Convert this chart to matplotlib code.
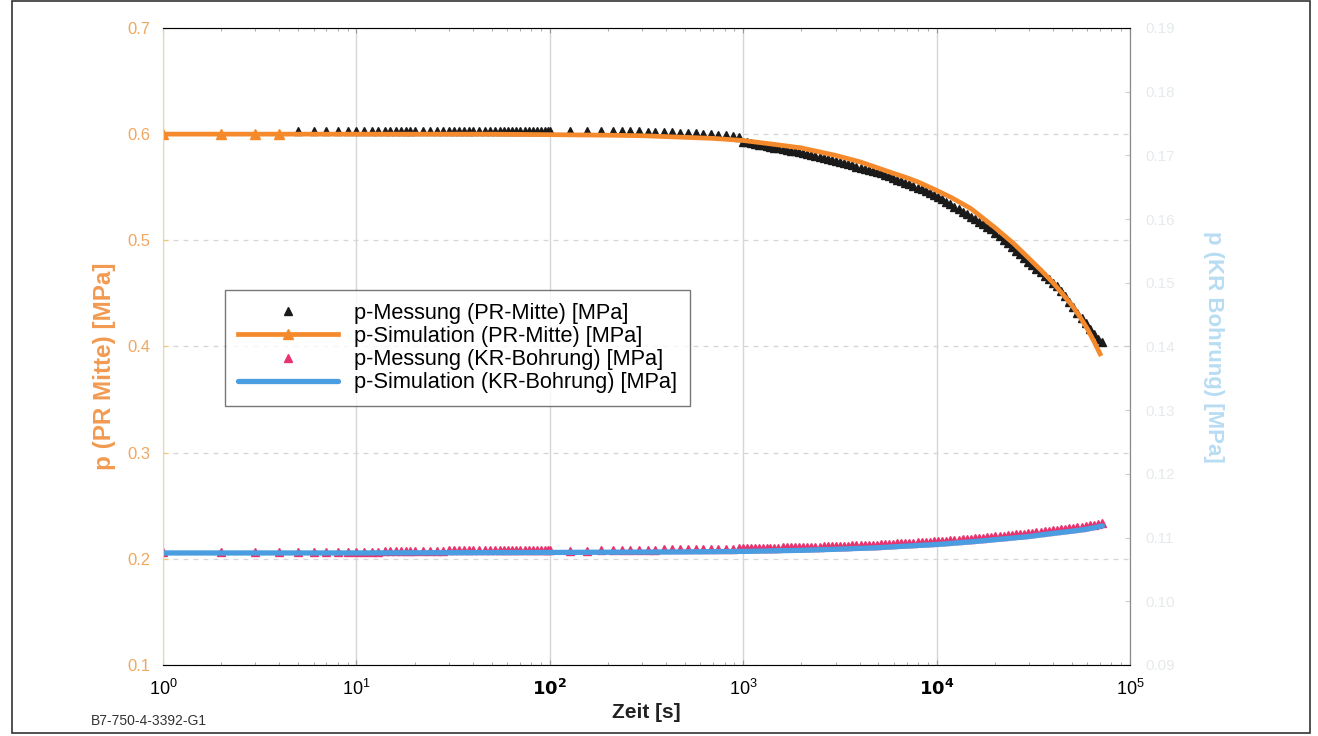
import matplotlib
matplotlib.use("Agg")
import matplotlib.pyplot as plt
from matplotlib.patches import Rectangle

plt.rcParams['font.family'] = ['Liberation Sans', 'DejaVu Sans']
plt.rcParams['mathtext.default'] = 'regular'

# Messzeitpunkte [s] (ab 1000 s dicht)
t_frueh = [5, 6, 7, 8, 9, 10, 11, 12, 13, 14, 15, 16, 17, 18, 19, 20, 22, 24, 26, 28, 30, 32, 34, 36, 38, 40,
           43, 46, 49, 52, 55, 58, 61, 64, 67, 70, 74, 78, 82, 86, 90, 94, 98, 100]
t_mitte = [127, 155, 183, 212, 236, 260, 290, 320, 350, 390, 430, 470, 520, 570, 620, 680, 740, 810, 880, 950]
t_spaet = [1000, 1050, 1100, 1150, 1200, 1260, 1320, 1380, 1450, 1520, 1600, 1680, 1760, 1850, 1940,
           2040, 2140, 2250, 2360, 2480, 2600, 2730, 2870, 3010, 3160, 3320, 3490, 3660, 3850, 4040,
           4240, 4450, 4670, 4900, 5150, 5400, 5670, 5950, 6250, 6560, 6890, 7230, 7590, 7970, 8370,
           8790, 9230, 9690, 10170, 10680, 11210, 11770, 12360, 12980, 13630, 14310, 15030, 15780, 16570,
           17400, 18270, 19180, 20140, 21150, 22200, 23320, 24480, 25700, 26990, 28340, 29760, 31240,
           32810, 34450, 36170, 37980, 39880, 41870, 43960, 46160, 48470, 50890, 53440, 56110, 58920,
           61860, 64960, 68200, 72000]

# Messung PR-Mitte (schwarze Dreiecke)
t_pr_mess = t_frueh + t_mitte + t_spaet
p_pr_mess = ([0.603, 0.603, 0.603, 0.603, 0.603, 0.603, 0.603, 0.603, 0.603, 0.603, 0.603, 0.603, 0.603,
              0.603, 0.603, 0.603, 0.603, 0.603, 0.603, 0.603, 0.603, 0.603, 0.603, 0.603, 0.603, 0.603,
              0.603, 0.603, 0.603, 0.603, 0.603, 0.603, 0.603, 0.603, 0.603, 0.603, 0.603, 0.603, 0.603,
              0.603, 0.603, 0.603, 0.603, 0.603]
             + [0.603, 0.603, 0.603, 0.603, 0.603, 0.603, 0.603, 0.602, 0.602, 0.602, 0.602, 0.601, 0.601,
                0.601, 0.600, 0.600, 0.599, 0.599, 0.598, 0.597]
             + [0.5930, 0.5922, 0.5914, 0.5908, 0.5901, 0.5893, 0.5886, 0.5879, 0.5872, 0.5865, 0.5857,
                0.5851, 0.5844, 0.5838, 0.5833, 0.5826, 0.5816, 0.5806, 0.5796, 0.5786, 0.5776, 0.5766,
                0.5755, 0.5745, 0.5735, 0.5725, 0.5715, 0.5705, 0.5695, 0.5685, 0.5675, 0.5665, 0.5655,
                0.5645, 0.5631, 0.5616, 0.5601, 0.5586, 0.5571, 0.5556, 0.5541, 0.5526, 0.5511, 0.5494,
                0.5479, 0.5464, 0.5449, 0.5430, 0.5412, 0.5386, 0.5362, 0.5339, 0.5315, 0.5292, 0.5269,
                0.5245, 0.5222, 0.5199, 0.5176, 0.5151, 0.5126, 0.5102, 0.5072, 0.5040, 0.5006, 0.4970,
                0.4935, 0.4901, 0.4867, 0.4833, 0.4797, 0.4766, 0.4732, 0.4698, 0.4667, 0.4633, 0.4602,
                0.4573, 0.4522, 0.4472, 0.4421, 0.4369, 0.4318, 0.4268, 0.4219, 0.4169, 0.4117, 0.4067,
                0.4040])

# Simulation PR-Mitte
t_pr_sim = [1, 2, 3, 4, 5, 10, 20, 50, 100, 200, 300, 500, 700, 1000, 1500, 2000, 3000, 4000, 5000,
            6000, 7000, 8000, 10000, 12000, 15000, 20000, 25000, 30000, 35000, 40000, 45000, 50000,
            55000, 60000, 65000, 70000]
p_pr_sim = [0.600, 0.600, 0.600, 0.600, 0.600, 0.600, 0.600, 0.600, 0.5995, 0.599, 0.5985, 0.597,
            0.596, 0.594, 0.590, 0.587, 0.580, 0.574, 0.568, 0.563, 0.559, 0.555, 0.547, 0.540, 0.530,
            0.512, 0.497, 0.483, 0.471, 0.460, 0.449, 0.439, 0.428, 0.417, 0.405, 0.393]

# Messung KR-Bohrung (pinke Dreiecke)
t_kr_mess = [1, 2, 3, 4] + t_frueh + t_mitte + t_spaet
p_kr_mess = ([0.206, 0.206, 0.206, 0.206, 0.206, 0.206, 0.206, 0.206, 0.206, 0.206, 0.2065, 0.2065,
              0.2065, 0.207, 0.207, 0.207, 0.207, 0.207, 0.2075, 0.2075, 0.2075, 0.2075, 0.2075, 0.2075,
              0.208, 0.208, 0.208, 0.208, 0.208, 0.208, 0.208, 0.208, 0.208, 0.208, 0.2085, 0.2085,
              0.2085, 0.2085, 0.2085, 0.2085, 0.2085, 0.2085, 0.2085, 0.2085, 0.2085, 0.2085, 0.2085,
              0.2085]
             + [0.2075, 0.2075, 0.208, 0.208, 0.208, 0.208, 0.2085, 0.2085, 0.2085, 0.209, 0.209, 0.209,
                0.209, 0.209, 0.2095, 0.2095, 0.2095, 0.2095, 0.2095, 0.210]
             + [0.2100, 0.2101, 0.2101, 0.2102, 0.2103, 0.2103, 0.2104, 0.2105, 0.2105, 0.2106, 0.2107,
                0.2107, 0.2108, 0.2109, 0.2110, 0.2110, 0.2112, 0.2113, 0.2114, 0.2115, 0.2116, 0.2118,
                0.2119, 0.2120, 0.2121, 0.2123, 0.2124, 0.2126, 0.2127, 0.2129, 0.2130, 0.2132, 0.2133,
                0.2134, 0.2136, 0.2138, 0.2141, 0.2143, 0.2145, 0.2147, 0.2149, 0.2151, 0.2153, 0.2155,
                0.2157, 0.2159, 0.2161, 0.2164, 0.2166, 0.2169, 0.2172, 0.2175, 0.2178, 0.2181, 0.2184,
                0.2187, 0.2190, 0.2194, 0.2197, 0.2200, 0.2204, 0.2207, 0.2211, 0.2214, 0.2218, 0.2221,
                0.2225, 0.2229, 0.2232, 0.2236, 0.2240, 0.2245, 0.2250, 0.2255, 0.2260, 0.2265, 0.2270,
                0.2274, 0.2278, 0.2283, 0.2287, 0.2292, 0.2298, 0.2303, 0.2308, 0.2315, 0.2323, 0.2331,
                0.2340])

# Simulation KR-Bohrung
t_kr_sim = [1, 10, 100, 500, 1000, 2000, 3000, 5000, 7000, 10000, 15000, 20000, 30000, 40000,
            50000, 60000, 72000]
p_kr_sim = [0.2055, 0.2055, 0.206, 0.2065, 0.207, 0.208, 0.209, 0.2105, 0.212, 0.2135, 0.216,
            0.218, 0.221, 0.224, 0.226, 0.228, 0.231]

x_ticks = [1, 10, 100, 1000, 10000, 100000]
x_labels = [r'$10^{0}$', r'$10^{1}$', r'$\mathbf{10^{2}}$', r'$10^{3}$', r'$\mathbf{10^{4}}$', r'$10^{5}$']
y_left_ticks = [0.1, 0.2, 0.3, 0.4, 0.5, 0.6, 0.7]
y_right_ticks = [0.09, 0.10, 0.11, 0.12, 0.13, 0.14, 0.15, 0.16, 0.17, 0.18, 0.19]

c_orange = '#f58a2c'
c_pink = '#e8336f'
c_blue = '#4a9de0'

fig = plt.figure(figsize=(13.18, 7.36), dpi=100)
fig.patches.append(Rectangle((0.009, 0.004), 0.985, 0.994, transform=fig.transFigure,
                             fill=False, edgecolor='#333333', linewidth=1.2))
ax = fig.add_axes([0.1237, 0.0965, 0.7337, 0.8655])

ax.plot(t_pr_mess, p_pr_mess, linestyle='none', marker='^', markersize=5.5, color='#1a1a1a',
        label='p-Messung (PR-Mitte) [MPa]')
ax.plot(t_pr_sim, p_pr_sim, color=c_orange, linewidth=3.4, marker='^', markersize=6.5,
        markevery=[0, 1, 2, 3], label='p-Simulation (PR-Mitte) [MPa]')
ax.plot(t_kr_mess, p_kr_mess, linestyle='none', marker='^', markersize=5.5, color=c_pink,
        label='p-Messung (KR-Bohrung) [MPa]')
ax.plot(t_kr_sim, p_kr_sim, color=c_blue, linewidth=3.8, solid_capstyle='round',
        label='p-Simulation (KR-Bohrung) [MPa]')

ax.set_xscale('log')
ax.set_xlim(1, 1e5)
ax.set_ylim(0.1, 0.7)
ax.set_xticks(x_ticks)
ax.set_xticklabels(x_labels, fontsize=13)
ax.set_yticks(y_left_ticks)
ax.set_yticklabels([f'{v:.1f}' for v in y_left_ticks], fontsize=12)
ax.tick_params(axis='both', direction='in', which='both', color='#999999')
ax.tick_params(axis='y', colors='#f0c870', labelcolor='#f0a860', pad=9)
ax.tick_params(axis='x', pad=10, top=True, which='both')

ax.grid(True, axis='x', which='major', color='#d6d6d6', linewidth=1.0)
ax.grid(True, axis='y', which='major', color='#d6d6d6', linestyle=(0, (4, 4)), linewidth=0.9)

for s in ['top', 'bottom', 'right']:
    ax.spines[s].set_color('#8a8a8a')
ax.spines['left'].set_color('#f2d88a')

ax.set_xlabel('Zeit [s]', fontsize=15, fontweight='bold', color='#222222', labelpad=3)
ax.set_ylabel('p (PR Mitte) [MPa]', fontsize=17.5, fontweight='bold', color='#f29a50', va='center')
ax.yaxis.set_label_coords(-0.061, 0.469)

ax2 = ax.twinx()
ax2.set_ylim(0.09, 0.19)
ax2.set_yticks(y_right_ticks)
ax2.set_yticklabels([f'{v:.2f}' for v in y_right_ticks], fontsize=11, color='#e6eaec')
ax2.tick_params(axis='y', direction='in', color='#cccccc', pad=11)
ax2.spines['right'].set_color('#8a8a8a')
ax2.spines['left'].set_visible(False)
ax2.set_ylabel('p (KR Bohrung) [MPa]', fontsize=16, fontweight='bold', color='#b8dcf2',
               rotation=270, va='center')
ax2.yaxis.set_label_coords(1.086, 0.5)

leg = ax.legend(loc='upper left', bbox_to_anchor=(0.064, 0.589), fontsize=15.7, frameon=True,
                fancybox=False, edgecolor='#555555', handlelength=4.6, labelspacing=0.1,
                borderpad=0.6, handletextpad=0.7, borderaxespad=0)
leg.get_frame().set_linewidth(1.0)

fig.text(0.069, 0.015, 'B7-750-4-3392-G1', fontsize=10, color='#333333')

fig.savefig('out.png', dpi=100)
